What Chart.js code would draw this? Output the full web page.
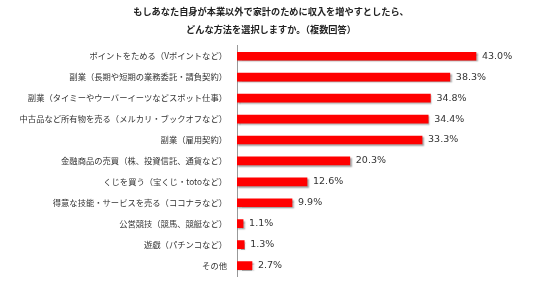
<!DOCTYPE html>
<html><head><meta charset="utf-8">
<script src="https://cdn.jsdelivr.net/npm/chart.js@4"></script>
<style>html,body{margin:0;padding:0;background:#fff}</style>
</head><body><canvas id="c" width="536" height="291" style="width:536px;height:291px;display:block"></canvas>
<script>
const titleLines = ["もしあなた自身が本業以外で家計のために収入を増やすとしたら、", "どんな方法を選択しますか。（複数回答）"];
const categories = [
  "ポイントをためる（Vポイントなど）",
  "副業（長期や短期の業務委託・請負契約）",
  "副業（タイミーやウーバーイーツなどスポット仕事）",
  "中古品など所有物を売る（メルカリ・ブックオフなど）",
  "副業（雇用契約）",
  "金融商品の売買（株、投資信託、通貨など）",
  "くじを買う（宝くじ・totoなど）",
  "得意な技能・サービスを売る（ココナラなど）",
  "公営競技（競馬、競艇など）",
  "遊戯（パチンコなど）",
  "その他"
];
const values = [43.0, 38.3, 34.8, 34.4, 33.3, 20.3, 12.6, 9.9, 1.1, 1.3, 2.7];

const shadowPlugin = {
  id: 'shadow',
  beforeDatasetDraw(chart) {
    const ctx = chart.ctx; ctx.save();
    ctx.shadowColor = 'rgba(0,0,0,0.35)';
    ctx.shadowOffsetX = 1.5; ctx.shadowOffsetY = 1.5; ctx.shadowBlur = 1.5;
  },
  afterDatasetDraw(chart) { chart.ctx.restore(); }
};
const labelPlugin = {
  id: 'vlabels',
  afterDatasetsDraw(chart) {
    const ctx = chart.ctx; const meta = chart.getDatasetMeta(0);
    ctx.save();
    ctx.font = '9.5px "DejaVu Sans"';
    ctx.fillStyle = '#333';
    ctx.textAlign = 'left'; ctx.textBaseline = 'middle';
    meta.data.forEach((bar, i) => {
      ctx.fillText(values[i].toFixed(1) + '%', bar.x + 6, bar.y);
    });
    ctx.restore();
  }
};

new Chart(document.getElementById('c'), {
  type: 'bar',
  data: { labels: categories, datasets: [{ data: values, backgroundColor: '#FF0000', borderWidth: 0, barThickness: 8 }] },
  options: {
    indexAxis: 'y', responsive: false, animation: false, devicePixelRatio: 1,
    layout: { padding: { left: 6, right: 0, top: 0, bottom: 3 } },
    plugins: {
      legend: { display: false }, tooltip: { enabled: false },
      title: { display: true, text: titleLines, color: '#222',
        font: { family: '"Noto Sans CJK JP"', size: 9.2, weight: 'bold', lineHeight: 2 },
        padding: { top: 2, bottom: 7 } }
    },
    scales: {
      x: { display: false, min: 0, max: 53.8 },
      y: {
        afterFit(s) { s.width = 231; },
        grid: { display: false, drawTicks: false },
        border: { display: true, color: '#999', width: 1 },
        ticks: { color: '#333', padding: 10, font: { family: '"Noto Sans CJK JP"', size: 8.3 } }
      }
    }
  },
  plugins: [shadowPlugin, labelPlugin]
});
</script></body></html>
